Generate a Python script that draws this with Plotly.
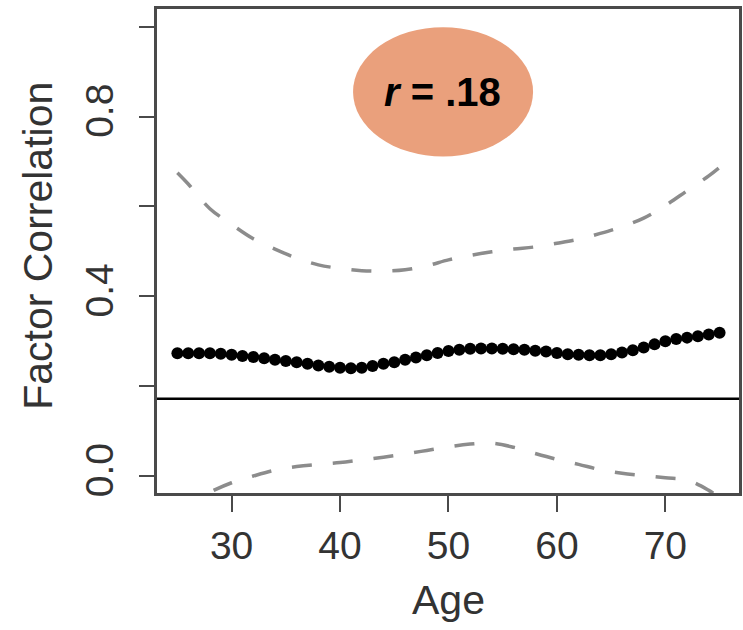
import plotly.graph_objects as go

# ---- data ----
ages = list(range(25, 76))
factor_corr = [0.273, 0.273, 0.273, 0.273, 0.272, 0.270, 0.267, 0.265, 0.262, 0.259,
               0.256, 0.253, 0.250, 0.246, 0.243, 0.241, 0.240, 0.241, 0.245, 0.250,
               0.253, 0.259, 0.264, 0.269, 0.274, 0.278, 0.281, 0.283, 0.284, 0.284,
               0.283, 0.282, 0.281, 0.279, 0.277, 0.274, 0.271, 0.270, 0.269, 0.269,
               0.271, 0.275, 0.280, 0.286, 0.293, 0.300, 0.305, 0.308, 0.311, 0.315,
               0.319]

band_ages = [25, 26, 28, 30, 32, 34, 36, 38, 40, 42, 44, 46, 48, 50, 52, 54, 56, 58,
             60, 62, 64, 66, 68, 70, 72, 74, 75]
upper_ci = [0.675, 0.650, 0.595, 0.560, 0.528, 0.505, 0.485, 0.470, 0.462, 0.457,
            0.456, 0.459, 0.468, 0.481, 0.491, 0.499, 0.505, 0.510, 0.518, 0.527,
            0.540, 0.555, 0.574, 0.602, 0.635, 0.668, 0.687]
lower_ci = [-0.075, -0.062, -0.036, -0.015, 0.000, 0.013, 0.021, 0.026, 0.030, 0.036,
            0.042, 0.049, 0.057, 0.065, 0.071, 0.073, 0.064, 0.050, 0.037, 0.026,
            0.014, 0.006, 0.001, -0.004, -0.009, -0.032, -0.048]

overall_r = 0.172          # horizontal reference line
r_label = "<b><i>r</i> = .18</b>"

x_ticks = [30, 40, 50, 60, 70]
y_ticks = [0.0, 0.2, 0.4, 0.6, 0.8, 1.0]
y_ticktext = ["0.0", "", "0.4", "", "0.8", ""]

FONT = "Liberation Sans, Arial, sans-serif"
AXC = "#4a4a4a"
TXT = "#333333"

fig = go.Figure()

fig.add_trace(go.Scatter(x=band_ages, y=upper_ci, mode="lines",
                         line=dict(color="#8c8c8c", width=3.5, dash="20px,21px",
                                   shape="spline", smoothing=1.0),
                         hoverinfo="skip", showlegend=False))
fig.add_trace(go.Scatter(x=band_ages, y=lower_ci, mode="lines",
                         line=dict(color="#8c8c8c", width=3.5, dash="20px,21px",
                                   shape="spline", smoothing=1.0),
                         hoverinfo="skip", showlegend=False))
fig.add_trace(go.Scatter(x=ages, y=factor_corr, mode="markers",
                         marker=dict(color="black", size=12),
                         showlegend=False))

fig.add_hline(y=overall_r, line=dict(color="black", width=2.5))

# ellipse with r label
fig.add_shape(type="circle", xref="x", yref="y", x0=41.2, x1=57.8, y0=0.711, y1=0.999,
              fillcolor="#EAA07C", line=dict(width=0), layer="above")
fig.add_annotation(x=49.45, y=0.855, xref="x", yref="y", text=r_label, showarrow=False,
                   font=dict(family=FONT, size=40, color="black"))

# axis titles
fig.add_annotation(x=0.5, y=-0.221, xref="paper", yref="paper", text="Age",
                   xanchor="center", yanchor="middle",
                   showarrow=False, font=dict(family=FONT, size=41, color=TXT))
fig.add_annotation(x=-0.205, y=0.51, xref="paper", yref="paper", text="Factor Correlation",
                   xanchor="center", yanchor="middle",
                   textangle=-90, showarrow=False,
                   font=dict(family=FONT, size=41, color=TXT))

fig.update_xaxes(range=[23.12, 76.79], tickvals=x_ticks, ticks="outside", ticklen=16,
                 tickwidth=2, tickcolor=AXC, showline=True, linecolor=AXC, linewidth=3,
                 mirror=True, showgrid=False, zeroline=False,
                 tickfont=dict(family=FONT, size=39, color=TXT))
fig.update_yaxes(range=[-0.0378, 1.0394], tickvals=y_ticks, ticktext=y_ticktext,
                 ticks="outside", ticklen=15, tickwidth=2, tickcolor=AXC, tickangle=-90,
                 ticklabelstandoff=10,
                 showline=True, linecolor=AXC, linewidth=3, mirror=True,
                 showgrid=False, zeroline=False,
                 tickfont=dict(family=FONT, size=39, color=TXT))

fig.update_layout(width=743, height=630,
                  margin=dict(l=157, r=1, t=9, b=137),
                  paper_bgcolor="white", plot_bgcolor="white")

fig.write_html("out.html")
